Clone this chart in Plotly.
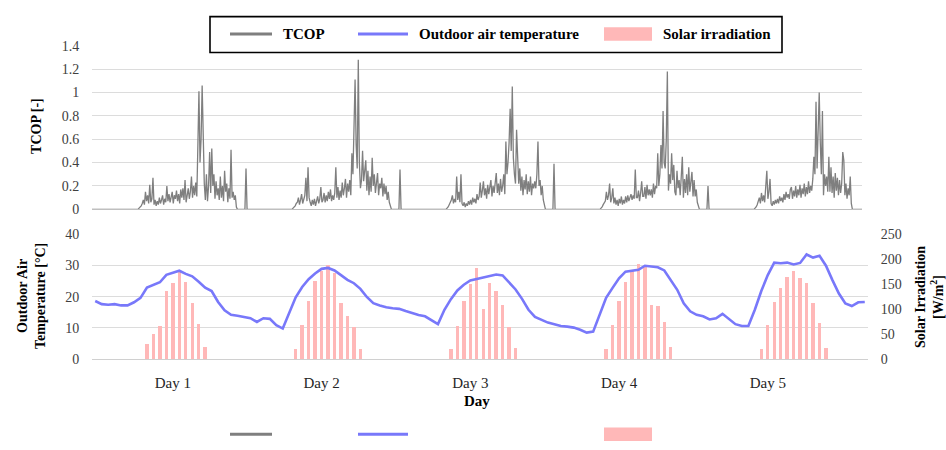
import plotly.graph_objects as go

# ---------------- data ----------------
# TCOP logged every 10 min (6 samples per hour); each daily operating
# window is listed hour by hour from 07:00 to 22:50
TCOP_SAMPLES_PER_H = 6
TCOP_WINDOW_START_H = 7
TCOP_TOTAL_H = 120

tcop_day1 = [
    0.00, 0.00, 0.01, 0.02, 0.03, 0.05,
    0.08, 0.04, 0.15, 0.07, 0.12, 0.05,
    0.21, 0.06, 0.09, 0.27, 0.04, 0.08,
    0.03, 0.07, 0.04, 0.10, 0.05, 0.08,
    0.12, 0.04, 0.09, 0.06, 0.20, 0.07,
    0.13, 0.06, 0.10, 0.15, 0.05, 0.12,
    0.09, 0.16, 0.07, 0.13, 0.05, 0.17,
    0.10, 0.18, 0.08, 0.25, 0.06, 0.14,
    0.18, 0.09, 0.15, 0.28, 0.10, 0.20,
    0.12, 0.23, 0.11, 0.55, 1.01, 0.40,
    0.60, 1.06, 0.45, 0.22, 0.08, 0.30,
    0.07, 0.20, 0.49, 0.14, 0.52, 0.20,
    0.30, 0.09, 0.24, 0.12, 0.18, 0.08,
    0.28, 0.10, 0.20, 0.07, 0.33, 0.15,
    0.22, 0.06, 0.18, 0.09, 0.51, 0.10,
    0.15, 0.08, 0.12, 0.02, 0.00, 0.00,
]
tcop_day2 = [
    0.00, 0.00, 0.01, 0.02, 0.03, 0.05,
    0.06, 0.10, 0.04, 0.08, 0.13, 0.05,
    0.08, 0.12, 0.27, 0.07, 0.36, 0.10,
    0.06, 0.03, 0.08, 0.04, 0.09, 0.03,
    0.07, 0.11, 0.05, 0.09, 0.19, 0.06,
    0.08, 0.14, 0.06, 0.12, 0.07, 0.15,
    0.09, 0.17, 0.07, 0.12, 0.08, 0.14,
    0.36, 0.10, 0.19, 0.08, 0.16, 0.10,
    0.23, 0.12, 0.18, 0.26, 0.10, 0.22,
    0.15, 0.25, 0.12, 0.48, 0.30, 0.75,
    1.11, 0.55, 0.35, 1.28, 0.40, 0.18,
    0.25, 0.50, 0.24, 0.33, 0.42, 0.16,
    0.33, 0.12, 0.28, 0.15, 0.44, 0.20,
    0.30, 0.14, 0.25, 0.31, 0.12, 0.22,
    0.18, 0.27, 0.11, 0.22, 0.13, 0.20,
    0.08, 0.15, 0.06, 0.02, 0.00, 0.00,
]
tcop_day3 = [
    0.00, 0.00, 0.01, 0.02, 0.04, 0.06,
    0.08, 0.12, 0.05, 0.09, 0.06, 0.28,
    0.08, 0.15, 0.06, 0.30, 0.05, 0.03,
    0.06, 0.02, 0.05, 0.03, 0.07, 0.04,
    0.08, 0.04, 0.10, 0.06, 0.09, 0.05,
    0.13, 0.08, 0.11, 0.23, 0.10, 0.16,
    0.24, 0.12, 0.18, 0.09, 0.21, 0.13,
    0.19, 0.25, 0.11, 0.20, 0.14, 0.22,
    0.31, 0.14, 0.22, 0.12, 0.26, 0.15,
    0.20, 0.30, 0.13, 0.58, 0.30, 0.40,
    0.57, 0.86, 0.50, 1.05, 0.44, 0.30,
    0.22, 0.68, 0.44, 0.22, 0.35, 0.16,
    0.28, 0.12, 0.25, 0.17, 0.30, 0.13,
    0.24, 0.15, 0.28, 0.12, 0.22, 0.18,
    0.24, 0.18, 0.30, 0.58, 0.20, 0.25,
    0.12, 0.20, 0.08, 0.02, 0.00, 0.00,
]
tcop_day4 = [
    0.00, 0.00, 0.01, 0.02, 0.04, 0.06,
    0.07, 0.15, 0.08, 0.12, 0.22, 0.06,
    0.10, 0.18, 0.05, 0.10, 0.04, 0.08,
    0.03, 0.09, 0.05, 0.11, 0.04, 0.08,
    0.05, 0.11, 0.06, 0.12, 0.07, 0.10,
    0.13, 0.08, 0.12, 0.09, 0.34, 0.10,
    0.10, 0.16, 0.07, 0.14, 0.24, 0.11,
    0.11, 0.19, 0.09, 0.21, 0.12, 0.17,
    0.12, 0.17, 0.10, 0.22, 0.13, 0.20,
    0.18, 0.48, 0.20, 0.30, 0.55, 0.35,
    0.84, 0.40, 0.35, 0.60, 1.18, 0.16,
    0.30, 0.22, 0.48, 0.25, 0.38, 0.15,
    0.12, 0.33, 0.18, 0.25, 0.12, 0.28,
    0.45, 0.10, 0.26, 0.14, 0.30, 0.12,
    0.36, 0.15, 0.22, 0.32, 0.11, 0.25,
    0.11, 0.17, 0.06, 0.02, 0.00, 0.00,
]
tcop_day5 = [
    0.00, 0.00, 0.01, 0.02, 0.04, 0.07,
    0.10, 0.05, 0.14, 0.07, 0.12, 0.06,
    0.18, 0.33, 0.09, 0.15, 0.26, 0.05,
    0.03, 0.07, 0.04, 0.08, 0.05, 0.09,
    0.05, 0.11, 0.07, 0.10, 0.06, 0.13,
    0.08, 0.15, 0.10, 0.13, 0.09, 0.17,
    0.19, 0.09, 0.16, 0.11, 0.20, 0.10,
    0.17, 0.12, 0.21, 0.10, 0.18, 0.13,
    0.22, 0.11, 0.19, 0.13, 0.24, 0.14,
    0.20, 0.16, 0.26, 0.45, 0.30, 0.92,
    0.35, 0.60, 1.00, 0.57, 0.30, 0.84,
    0.12, 0.30, 0.20, 0.28, 0.15, 0.45,
    0.15, 0.36, 0.14, 0.28, 0.10, 0.31,
    0.16, 0.27, 0.12, 0.25, 0.14, 0.22,
    0.49, 0.42, 0.12, 0.22, 0.09, 0.18,
    0.12, 0.28, 0.05, 0.00, 0.00, 0.00,
]
# short start-up peaks logged at midnight
tcop_midnight_hours = [24, 48, 72, 96]
tcop_midnight_values = [0.35, 0.34, 0.39, 0.20]

# hourly outdoor air temperature [°C], hours 0..119
temperature = [
    18.6, 17.6, 17.4, 17.6, 17.2, 17.2, 18.2, 19.6, 22.9, 23.8, 24.6, 27.0,
    27.7, 28.3, 27.3, 26.5, 24.8, 22.9, 21.8, 18.3, 15.6, 14.2, 13.9, 13.6,
    13.1, 11.9, 13.1, 12.9, 10.9, 9.8, 15.0, 19.8, 23.1, 25.6, 27.4, 28.9,
    29.2, 28.4, 26.9, 25.4, 24.3, 22.5, 19.9, 17.9, 17.2, 16.6, 16.3, 16.1,
    15.4, 14.7, 14.1, 13.7, 12.4, 11.2, 15.8, 19.2, 22.0, 23.8, 25.2, 25.7,
    26.0, 26.7, 27.1, 26.8, 24.4, 22.3, 19.3, 15.8, 13.5, 12.5, 11.7, 11.2,
    10.6, 10.4, 10.1, 9.4, 8.5, 8.8, 14.0, 19.6, 22.8, 25.9, 28.0, 28.3,
    28.6, 29.9, 29.7, 29.4, 28.4, 25.3, 22.2, 17.9, 15.3, 14.2, 13.7, 12.7,
    13.1, 14.5, 12.8, 11.2, 10.6, 10.6, 15.8, 21.8, 26.9, 30.9, 30.7, 30.9,
    30.3, 30.8, 33.5, 32.5, 33.1, 29.9, 25.3, 21.0, 17.8, 17.0, 18.2, 18.3,
]

# hourly solar irradiation [W/m2] for hours 07..17 of each day
solar_hours_of_day = [7, 8, 9, 10, 11, 12, 13, 14, 15, 16, 17]
solar_day1 = [0, 29, 50, 65, 137, 153, 175, 154, 112, 69, 24]
solar_day2 = [20, 68, 116, 156, 177, 188, 172, 112, 85, 63, 19]
solar_day3 = [19, 66, 115, 150, 183, 99, 152, 136, 108, 64, 21]
solar_day4 = [19, 68, 115, 154, 176, 190, 184, 108, 105, 74, 24]
solar_day5 = [19, 68, 113, 143, 165, 177, 163, 152, 112, 72, 21]

day_labels = ["Day 1", "Day 2", "Day 3", "Day 4", "Day 5"]
day_label_hours = [12, 35, 58, 81, 104]

# ---------------- series assembly ----------------
n_steps = TCOP_TOTAL_H * TCOP_SAMPLES_PER_H + 1
tcop_time = [i / TCOP_SAMPLES_PER_H for i in range(n_steps)]
tcop = [0.0] * n_steps
for d, day in enumerate([tcop_day1, tcop_day2, tcop_day3, tcop_day4, tcop_day5]):
    first = (24 * d + TCOP_WINDOW_START_H) * TCOP_SAMPLES_PER_H
    for k, v in enumerate(day):
        tcop[first + k] = v
for h, v in zip(tcop_midnight_hours, tcop_midnight_values):
    tcop[h * TCOP_SAMPLES_PER_H] = v

temp_hours = list(range(len(temperature)))

solar_x, solar_y = [], []
for d, day in enumerate([solar_day1, solar_day2, solar_day3, solar_day4, solar_day5]):
    for h, v in zip(solar_hours_of_day, day):
        solar_x.append(24 * d + h)
        solar_y.append(v)

# ---------------- styling ----------------
W, H = 946, 450
SERIF = "Times New Roman, Liberation Serif, Times, serif"
GREY = "#7F7F7F"
BLUE = "#7878FA"
PINK = "#FFB8B8"
GRID = "#DCDCDC"
TICK_FONT = dict(family=SERIF, size=14, color="#404040")


def px(x):
    return x / W


def py(y):
    return 1 - y / H


fig = go.Figure()

fig.add_trace(go.Scatter(
    x=tcop_time, y=tcop, mode="lines", name="TCOP",
    line=dict(color=GREY, width=1.3), xaxis="x", yaxis="y",
))
fig.add_trace(go.Bar(
    x=solar_x, y=solar_y, name="Solar irradiation",
    marker=dict(color=PINK, line=dict(width=0)), width=0.52,
    xaxis="x2", yaxis="y2",
))
fig.add_trace(go.Scatter(
    x=temp_hours, y=temperature, mode="lines", name="Outdoor air temperature",
    line=dict(color=BLUE, width=2.6), xaxis="x2", yaxis="y3",
))

hidden_ticks = dict(ticks="outside", ticklen=9, tickcolor="rgba(0,0,0,0)")

fig.update_layout(
    width=W, height=H,
    margin=dict(l=0, r=0, t=0, b=0),
    paper_bgcolor="white", plot_bgcolor="white",
    font=dict(family=SERIF),
    showlegend=False,
    bargap=0,
    xaxis=dict(
        domain=[px(92), px(862)], range=[0, TCOP_TOTAL_H], anchor="y",
        showticklabels=False, showgrid=False, zeroline=False,
        showline=True, linecolor="#BFBFBF", linewidth=1,
    ),
    yaxis=dict(
        domain=[py(209.3), py(40)], range=[0, 1.4], dtick=0.2, anchor="x",
        showgrid=True, gridcolor=GRID, gridwidth=1, zeroline=False,
        tickfont=TICK_FONT, **hidden_ticks,
    ),
    xaxis2=dict(
        domain=[px(92), px(868)], range=[-0.5, 119.5], anchor="y2",
        tickmode="array", tickvals=day_label_hours, ticktext=day_labels,
        tickfont=dict(family=SERIF, size=15, color="#262626"),
        ticks="outside", ticklen=10, tickcolor="rgba(0,0,0,0)",
        showgrid=False, zeroline=False,
        showline=True, linecolor="#D0D0D0", linewidth=1,
    ),
    yaxis2=dict(
        domain=[py(364.3), py(235)], range=[0, 250], dtick=50, anchor="x2",
        side="right", showgrid=False, zeroline=False,
        tickfont=TICK_FONT, **hidden_ticks,
    ),
    yaxis3=dict(
        range=[0, 40], dtick=10, overlaying="y2", anchor="x2", side="left",
        showgrid=True, gridcolor=GRID, gridwidth=1, zeroline=False,
        tickfont=TICK_FONT, **hidden_ticks,
    ),
)

title_font = dict(family=SERIF, size=14, color="black")
annotations = [
    dict(text="<b>TCOP [-]</b>", x=px(37), y=py(123), textangle=-90),
    dict(text="<b>Outdoor Air<br>Temperature [°C]</b>", x=px(31), y=py(299), textangle=-90),
    dict(text="<b>Solar Irradiation<br>[W/m<sup>2</sup>]</b>", x=px(929), y=py(300), textangle=-90),
    dict(text="<b>Day</b>", x=px(477), y=py(408), font=dict(family=SERIF, size=15, color="black")),
]
for a in annotations:
    a.setdefault("font", title_font)
    fig.add_annotation(xref="paper", yref="paper", xanchor="center", yanchor="middle",
                       showarrow=False, **a)

# legend box with its three keys
legend_font = dict(family=SERIF, size=15, color="black")
fig.add_shape(type="rect", xref="paper", yref="paper",
              x0=px(210), x1=px(782), y0=py(47), y1=py(10),
              line=dict(color="black", width=1.6), fillcolor="white", layer="above")
legend_rows = [(28, True), (442, False)]
for yc, with_text in legend_rows:
    fig.add_shape(type="line", xref="paper", yref="paper", layer="above",
                  x0=px(230), x1=px(272), y0=py(yc), y1=py(yc),
                  line=dict(color=GREY, width=3))
    fig.add_shape(type="line", xref="paper", yref="paper", layer="above",
                  x0=px(358), x1=px(408), y0=py(yc), y1=py(yc),
                  line=dict(color=BLUE, width=3))
    fig.add_shape(type="rect", xref="paper", yref="paper", layer="above",
                  x0=px(604), x1=px(652), y0=py(yc + 7), y1=py(yc - 7),
                  line=dict(width=0), fillcolor=PINK)
    if with_text:
        for txt, x0 in [("TCOP", 281), ("Outdoor air temperature", 417), ("Solar irradiation", 661)]:
            fig.add_annotation(xref="paper", yref="paper", x=px(x0), y=py(yc),
                               xanchor="left", yanchor="middle", showarrow=False,
                               text=f"<b>{txt}</b>", font=legend_font)

fig.write_html("out.html")
